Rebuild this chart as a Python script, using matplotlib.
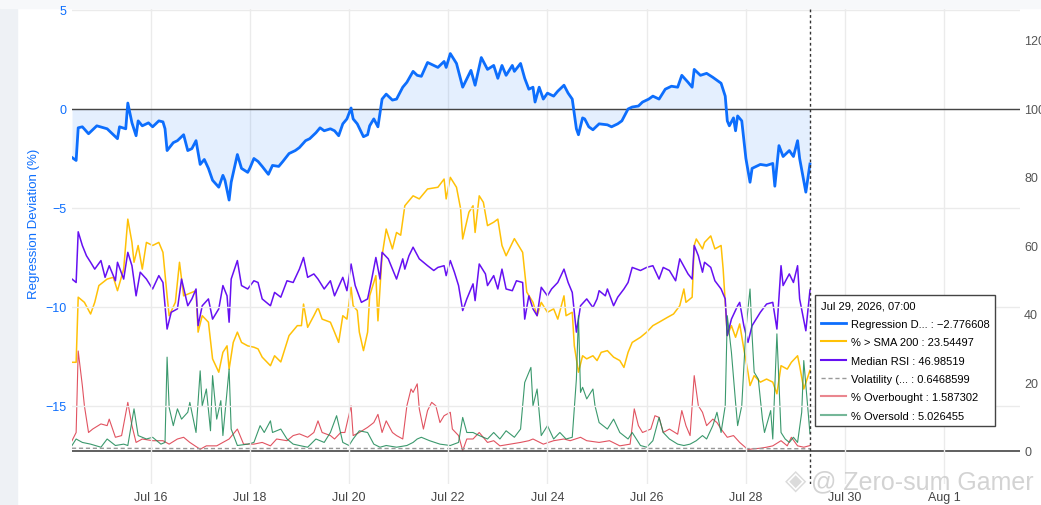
import numpy as np
import matplotlib
matplotlib.use("Agg")
import matplotlib.pyplot as plt
from matplotlib.lines import Line2D
from matplotlib.patches import Rectangle

plt.rcParams['font.family'] = ['Liberation Sans', 'DejaVu Sans']

# hours since 2026-07-14 10:00, value
reg = [(0,-2.45),(2,-2.6),(3,-0.95),(5,-0.9),(8,-1.25),(12,-0.85),(17,-1.0),(19,-1.2),(22,-1.5),(23,-0.9),
       (26,-1.0),(27,0.3),(29,-0.7),(31,-1.35),(32,-0.6),(34,-0.85),(37,-0.7),(39,-0.9),(42,-0.6),(44,-0.65),
       (45,-1.0),(46,-2.1),(49,-1.7),(51,-1.6),(54,-1.3),(56,-2.1),(58,-2.0),(60,-1.6),(62,-2.8),(64,-2.55),
       (66,-3.0),(68,-3.6),(71,-3.95),(73,-3.35),(74,-3.6),(76,-4.6),(77,-3.7),(80,-2.3),(82,-3.0),(85,-3.2),
       (86,-3.0),(88,-2.5),(90,-2.65),(92,-2.9),(95,-3.3),(97,-2.85),(100,-2.9),(102,-2.65),(105,-2.25),(108,-2.1),
       (110,-1.95),(113,-1.6),(115,-1.5),(118,-1.2),(120,-0.95),(122,-1.1),(125,-1.0),(127,-1.1),(129,-1.35),(131,-0.75),
       (133,-0.5),(135,0.05),(136,-0.5),(138,-0.75),(141,-1.4),(143,-1.3),(144,-0.85),(146,-0.5),(148,-0.9),(150,0.5),
       (152,0.75),(155,0.45),(157,0.5),(160,1.1),(162,1.35),(165,1.9),(167,1.7),(169,1.65),(172,2.35),(177,2.1),
       (180,2.4),(181,2.1),(183,2.8),(186,2.3),(189,1.1),(193,1.95),(195,1.2),(198,2.6),(201,2.0),(204,2.2),
       (206,1.55),(208,2.2),(210,1.7),(213,2.2),(214,1.9),(217,2.3),(219,1.55),(221,1.0),(223,1.1),(224,0.35),
       (226,1.1),(228,0.5),(230,0.8),(233,0.65),(235,0.9),(238,1.2),(240,0.8),(242,0.5),(244,-1.0),(245,-1.3),
       (247,-0.45),(248,-0.5),(250,-0.9),(252,-1.05),(255,-0.75),(259,-0.8),(261,-0.9),(264,-0.75),(266,-0.6),(269,0.0),
       (271,0.1),(274,0.15),(276,0.35),(279,0.5),(281,0.65),(284,0.5),(287,1.0),(290,1.15),(293,1.1),(295,1.7),
       (298,1.35),(300,1.1),(301,2.0),(304,1.7),(307,1.8),(310,1.6),(312,1.45),(314,1.3),(316,0.65),(317,-0.6),
       (318,-0.85),(320,-0.45),(321,-1.1),(322,-0.35),(324,-0.6),(326,-2.5),(328,-3.7),(329,-3.0),(333,-2.8),(336,-2.85),
       (339,-2.75),(340,-3.9),(342,-1.85),(344,-2.4),(347,-2.1),(349,-2.4),(351,-1.6),(352,-2.5),(355,-4.2),(357,-2.776608)]

sma = [(0,25.9),(2,25.9),(3,44.9),(6,43.4),(9,40.0),(11,43.4),(13,48.3),(17,50.2),(20,50.7),(22,46.8),
       (25,53.1),(27,67.7),(29,60.9),(30,55.1),(32,60.0),(34,53.1),(36,60.9),(39,60.0),(42,60.9),(44,58.0),
       (46,45.3),(47,39.5),(50,43.4),(52,55.1),(54,45.3),(56,45.8),(60,46.8),(61,34.7),(63,39.5),(66,37.6),
       (68,26.9),(71,23.0),(73,28.8),(75,30.7),(76,23.9),(78,31.7),(80,34.7),(82,31.7),(85,30.7),(88,30.3),
       (90,29.8),(92,27.4),(96,24.9),(98,27.8),(101,26.0),(103,29.8),(105,33.7),(109,36.6),(111,36.6),(112,42.9),
       (114,36.1),(117,39.5),(119,41.9),(121,38.5),(125,37.6),(127,34.7),(129,31.7),(131,39.5),(133,38.5),(135,47.8),
       (136,42.4),(138,41.0),(139,34.7),(141,29.3),(143,34.7),(144,45.3),(147,51.2),(148,38.0),(150,57.0),(152,64.8),
       (155,59.0),(157,63.8),(159,63.0),(161,71.6),(165,74.5),(168,73.6),(172,76.5),(177,77.0),(180,79.4),(181,73.6),
       (183,79.9),(186,77.0),(188,70.7),(189,61.9),(192,69.7),(194,71.6),(195,63.8),(197,74.5),(199,72.6),(201,65.8),
       (204,66.8),(206,67.7),(208,60.0),(210,57.0),(214,62.0),(218,58.0),(220,46.4),(223,43.4),(225,39.5),(227,43.4),
       (230,40.5),(233,41.5),(235,38.5),(238,45.3),(239,39.5),(242,40.5),(243,30.7),(245,23.0),(247,27.8),(249,26.9),
       (252,27.8),(254,26.4),(256,28.8),(259,29.3),(262,27.4),(265,26.4),(267,24.4),(269,28.8),(271,31.7),(275,33.2),
       (278,34.7),(281,36.6),(284,37.6),(288,39.0),(291,40.0),(294,42.4),(296,47.3),(297,43.4),(300,44.9),(301,60.0),
       (302,61.9),(305,59.0),(306,60.9),(309,62.8),(311,59.0),(314,60.0),(315,53.1),(317,33.7),(319,36.6),(321,33.2),
       (323,37.1),(325,29.8),(327,23.0),(328,19.1),(330,22.0),(333,20.1),(336,21.0),(339,20.1),(341,16.7),(343,24.9),
       (346,23.9),(348,25.9),(351,27.8),(352,24.9),(354,18.1),(357,23.54497)]

rsi = [(0,50.2),(2,49.2),(3,64.0),(5,60.0),(7,57.0),(9,55.1),(11,53.1),(14,55.6),(16,50.7),(18,54.1),
       (21,49.7),(22,55.1),(25,50.2),(27,58.0),(29,54.1),(31,45.3),(33,52.2),(36,50.2),(39,47.3),(42,51.2),
       (44,49.2),(46,35.6),(48,40.5),(51,41.5),(53,50.2),(56,42.4),(58,44.4),(60,47.3),(61,36.6),(63,42.4),
       (66,44.4),(68,38.5),(71,41.5),(73,48.3),(75,45.3),(76,37.6),(77,50.2),(80,55.6),(82,48.3),(85,47.3),
       (88,49.7),(90,49.2),(92,44.4),(96,42.4),(98,46.3),(101,44.9),(104,49.7),(107,49.2),(110,53.1),(112,56.5),
       (114,50.7),(117,51.7),(119,50.2),(122,47.3),(125,49.7),(127,45.3),(131,50.7),(133,46.8),(135,54.6),(137,48.3),
       (140,43.4),(143,44.4),(145,50.2),(147,56.5),(149,50.2),(150,58.0),(153,56.1),(157,50.2),(160,56.1),(161,53.1),
       (163,57.0),(165,59.5),(168,56.1),(172,54.1),(175,52.7),(177,53.6),(180,54.1),(181,51.2),(183,55.6),(185,52.2),
       (187,48.3),(189,41.0),(191,44.4),(194,48.8),(195,43.9),(197,54.6),(200,51.7),(201,48.3),(204,51.2),(206,47.3),
       (208,53.1),(210,47.3),(213,46.8),(215,49.7),(218,49.2),(219,38.5),(221,45.3),(223,41.5),(225,39.5),(227,47.8),
       (230,45.3),(232,47.3),(235,49.2),(238,53.1),(240,49.2),(242,46.3),(244,34.7),(246,42.4),(249,44.4),(252,41.9),
       (254,44.4),(255,46.8),(258,45.3),(259,47.3),(262,42.4),(264,44.9),(267,47.3),(269,49.2),(271,53.6),(275,52.7),
       (278,53.6),(281,54.1),(284,50.2),(286,53.6),(289,52.7),(292,49.7),(294,56.1),(298,51.7),(300,50.2),(301,60.0),
       (303,57.0),(305,52.2),(306,55.1),(309,53.6),(311,49.7),(314,47.3),(316,44.4),(317,33.7),(319,38.5),(322,42.4),
       (323,43.4),(325,36.6),(327,31.7),(329,36.6),(333,40.5),(336,42.9),(339,43.4),(341,35.6),(343,54.1),(344,48.3),
       (347,51.7),(349,49.2),(351,54.1),(352,44.4),(355,35.1),(357,46.98519)]

vol = [(0,0.8),(60,0.7),(120,0.75),(180,0.7),(240,0.7),(300,0.75),(357,0.6468599)]

obought = [(0,3.0),(2,5.4),(3,29.2),(5,19.1),(6,13.2),(8,5.4),(10,6.4),(14,7.9),(17,7.4),(18,9.3),
           (21,4.0),(24,4.5),(27,14.2),(29,7.4),(31,2.5),(34,3.5),(39,3.0),(44,3.0),(47,2.0),(51,3.5),
           (54,4.0),(57,2.5),(62,0.5),(65,1.5),(70,1.5),(76,3.5),(80,6.4),(83,2.0),(88,2.0),(92,2.5),
           (96,1.5),(99,3.5),(104,3.0),(107,4.5),(110,5.0),(114,4.0),(117,5.4),(119,8.8),(121,5.4),(125,4.5),
           (127,3.5),(130,5.4),(132,5.4),(135,13.2),(136,4.5),(139,5.4),(143,6.9),(146,8.3),(148,10.7),(150,5.4),
           (152,8.8),(155,5.4),(157,4.5),(160,3.5),(162,13.2),(164,18.1),(165,17.1),(167,19.6),(168,12.3),(170,6.4),
           (172,11.8),(174,14.2),(176,13.2),(178,8.3),(180,10.3),(183,11.3),(184,6.4),(187,4.5),(189,0.1),(191,3.5),
           (194,3.5),(197,5.4),(201,2.5),(204,3.0),(207,1.5),(212,2.0),(217,2.5),(221,3.0),(223,3.5),(228,2.0),
           (233,3.0),(238,3.5),(241,3.0),(246,4.0),(249,3.0),(255,2.5),(260,3.0),(265,1.5),(270,2.0),(272,12.3),
           (274,7.4),(276,5.4),(280,6.4),(282,10.3),(284,9.8),(286,5.4),(289,6.4),(293,4.9),(295,11.8),(297,7.4),
           (299,4.5),(301,22.0),(303,13.2),(305,11.3),(307,7.4),(310,9.3),(312,8.3),(314,6.4),(317,4.0),(320,4.5),
           (323,2.5),(327,0.4),(329,0.6),(333,0.8),(336,1.1),(339,1.5),(343,3.0),(346,1.5),(348,4.0),(351,1.5),
           (354,1.1),(357,1.587302)]

osold = [(0,1.6),(2,3.5),(5,2.5),(9,2.0),(14,1.1),(17,3.5),(21,1.6),(25,2.0),(27,1.6),(29,8.8),
         (30,12.3),(32,4.5),(36,3.5),(39,4.0),(43,2.0),(45,2.5),(46,27.4),(47,12.7),(49,7.4),(51,12.3),
         (53,9.3),(56,11.3),(57,14.2),(60,5.4),(62,23.4),(63,13.2),(65,18.1),(67,5.9),(68,22.0),(70,9.3),
         (72,14.7),(73,4.5),(76,23.9),(77,6.4),(80,1.6),(85,2.0),(88,2.5),(91,7.4),(93,5.4),(96,8.8),
         (97,5.4),(101,6.4),(104,3.5),(107,2.0),(110,1.6),(114,1.1),(118,3.5),(122,2.5),(125,5.4),(128,10.3),
         (131,2.5),(134,1.6),(136,3.5),(139,5.9),(143,5.4),(146,2.0),(149,1.1),(152,1.6),(157,1.1),(162,1.6),
         (165,2.5),(167,3.5),(169,4.0),(173,3.0),(178,2.0),(183,1.6),(187,2.5),(189,9.8),(191,5.4),(194,5.4),
         (197,4.5),(201,3.5),(204,5.4),(207,3.5),(210,5.9),(214,4.0),(217,6.4),(218,13.2),(219,20.0),(222,24.4),
         (223,13.2),(225,18.1),(226,11.3),(227,4.5),(230,7.4),(233,3.5),(236,5.4),(239,3.5),(242,4.0),(244,21.0),
         (245,39.5),(246,17.1),(247,18.6),(249,15.2),(252,18.1),(253,13.2),(255,8.3),(259,6.4),(262,9.3),(265,5.4),
         (269,3.5),(271,5.4),(275,1.6),(278,1.1),(281,3.0),(284,9.8),(286,5.4),(289,3.5),(293,2.0),(296,1.6),
         (299,2.0),(302,3.0),(305,4.5),(307,3.5),(310,7.4),(312,11.3),(314,5.4),(316,13.2),(317,39.5),(319,28.8),
         (321,14.2),(322,7.4),(324,13.2),(326,35.6),(328,47.3),(329,33.7),(330,23.0),(332,21.0),(334,9.3),(335,5.4),
         (338,11.8),(339,3.5),(341,34.2),(343,5.4),(345,3.5),(347,2.5),(349,4.0),(351,2.5),(353,11.3),(354,26.4),
         (357,5.026455)]

tick_dates = ['2026-07-16', '2026-07-18', '2026-07-20', '2026-07-22', '2026-07-24',
              '2026-07-26', '2026-07-28', '2026-07-30', '2026-08-01']
tick_labels = ['Jul 16\n2026', 'Jul 18', 'Jul 20', 'Jul 22', 'Jul 24',
               'Jul 26', 'Jul 28', 'Jul 30', 'Aug 1']

start = np.datetime64('2026-07-14T10:00')


def series(pairs):
    h = np.array([p[0] for p in pairs])
    v = np.array([p[1] for p in pairs])
    return start + h * np.timedelta64(1, 'h'), v


BLUE = '#0d6efd'
YELLOW = '#ffc107'
PURPLE = '#6610f2'
RED = '#dc3545'
GREEN = '#198754'

fig = plt.figure(figsize=(10.41, 5.06), dpi=100)
fig.patches.append(Rectangle((0, 0), 17 / 1041, 1, transform=fig.transFigure,
                             color='#eef1f5', zorder=0))
fig.patches.append(Rectangle((0, 1 - 9 / 506), 1, 9 / 506, transform=fig.transFigure,
                             color='#f7f8fa', zorder=0))

ax = fig.add_axes([72 / 1041, 1 - 485 / 506, (1020 - 72) / 1041, (485 - 10) / 506])
ax2 = ax.twinx()
ax.set_zorder(2)
ax.patch.set_visible(False)

t, v = series(reg)
ax.fill_between(t, v, 0, color=BLUE, alpha=0.11, lw=0)
ax.plot(t, v, color=BLUE, lw=2.0, zorder=4)

for name, col, lw, a in [(sma, YELLOW, 1.1, 1), (rsi, PURPLE, 1.1, 1),
                         (obought, RED, 0.8, 0.85), (osold, GREEN, 0.8, 0.85)]:
    t, v = series(name)
    ax2.plot(t, v, color=col, lw=lw, alpha=a)
t, v = series(vol)
ax2.plot(t, v, color='#999999', lw=1, ls=(0, (3, 2)))

ax.axhline(0, color='#444444', lw=1, zorder=3)
ax2.axhline(0, color='#444444', lw=1.2)

ax.set_ylim(-18.94, 5.05)
ax2.set_ylim(-9.64, 129.05)
ax.set_xlim(start, np.datetime64('2026-08-02T12:36'))

ax.set_yticks([5, 0, -5, -10, -15])
ax.set_yticklabels(['5', '0', '\u22125', '\u221210', '\u221215'])
ax2.set_yticks([0, 20, 40, 60, 80, 100, 120])
ax.set_xticks(np.array(tick_dates, dtype='datetime64[m]'))
ax.set_xticklabels(tick_labels)

ax.grid(True, color='#ebebeb', lw=1)
ax.set_axisbelow(True)
for a_ in (ax, ax2):
    for s in a_.spines.values():
        s.set_visible(False)
ax.tick_params(axis='y', length=0, pad=4, labelsize=9, labelcolor=BLUE)
ax.tick_params(axis='x', length=0, pad=5, labelsize=9, labelcolor='#444444')
ax2.tick_params(axis='y', length=0, pad=3, labelsize=9, labelcolor='#555555')
ax.set_ylabel('Regression Deviation (%)', color=BLUE, fontsize=9.5)
ax.yaxis.set_label_coords(-0.034, 0.55)

# hover spike line at the last point
ax.axvline(start + 357 * np.timedelta64(1, 'h'), color='#333333', lw=1,
           ls=(0, (2, 2)), zorder=5)

# watermark
fig.text(1034 / 1041, 1 - 482 / 506, '@ Zero-sum Gamer', ha='right', va='center',
         fontsize=18, color='#c8c8c8', alpha=0.8, zorder=10)
fig.text(796 / 1041, 1 - 482 / 506, '\u25c8', ha='center', va='center',
         fontsize=20, color='#d2d2d2', alpha=0.8, zorder=10)

handles = [Line2D([], [], color=BLUE, lw=2),
           Line2D([], [], color=YELLOW, lw=1.5),
           Line2D([], [], color=PURPLE, lw=1.5),
           Line2D([], [], color='#999999', lw=1, ls=(0, (3, 2))),
           Line2D([], [], color=RED, lw=1.5, alpha=0.6),
           Line2D([], [], color=GREEN, lw=1.5, alpha=0.6)]
labels = ['Regression D... : \u22122.776608', '% > SMA 200 : 23.54497',
          'Median RSI : 46.98519', 'Volatility (... : 0.6468599',
          '% Overbought : 1.587302', '% Oversold : 5.026455']
leg = fig.legend(handles, labels, title='Jul 29, 2026, 07:00',
                 loc='upper left', bbox_to_anchor=(815 / 1041, 1 - 296 / 506),
                 borderaxespad=0, fontsize=8.0, title_fontsize=8.0, frameon=True,
                 fancybox=False, edgecolor='#444444', framealpha=1,
                 handlelength=2.3, handletextpad=0.4, labelspacing=0.75,
                 borderpad=0.5, alignment='left')
leg.get_frame().set_linewidth(1)
leg.set_zorder(20)

fig.savefig('out.png', dpi=100)
